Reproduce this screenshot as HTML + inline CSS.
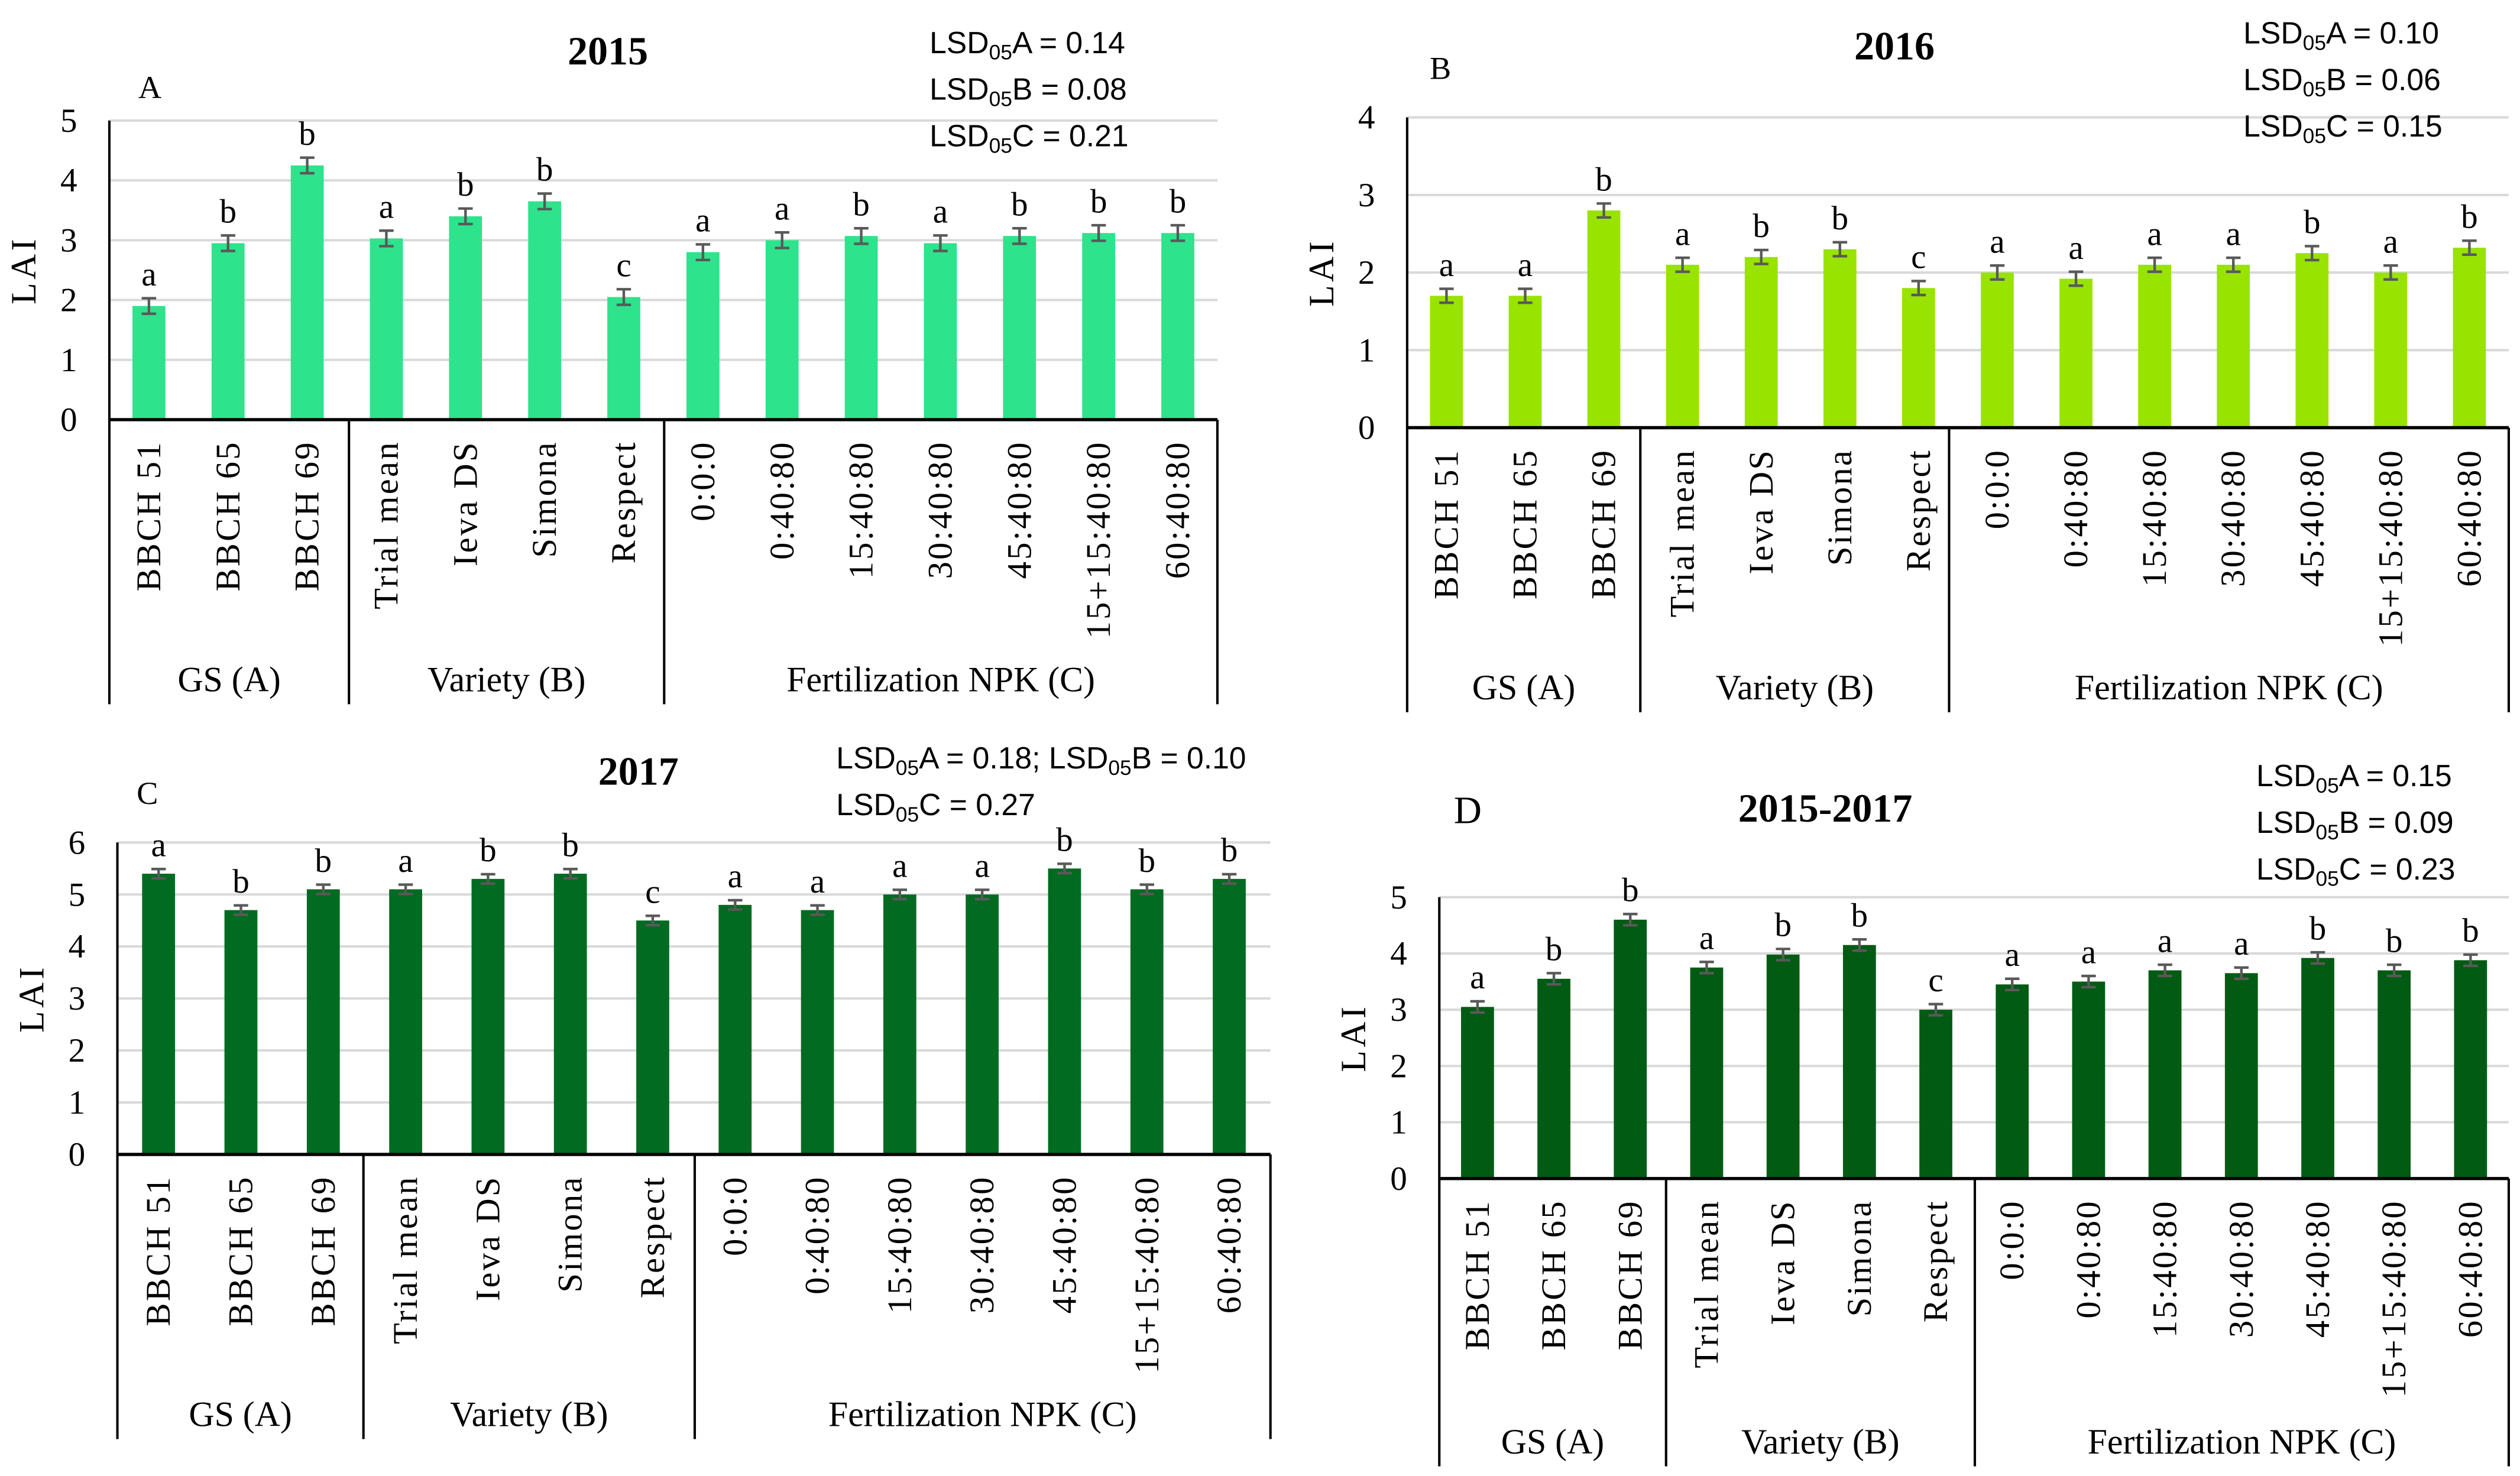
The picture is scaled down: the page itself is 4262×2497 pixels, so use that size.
<!DOCTYPE html>
<html><head><meta charset="utf-8"><style>
html,body{margin:0;padding:0;background:#fff}
svg{display:block}
text{font-family:"Liberation Serif",serif;fill:#000}
.sans{font-family:"Liberation Sans",sans-serif}
</style></head><body>
<svg id="chart" width="4262" height="2497" viewBox="0 0 1567 918" preserveAspectRatio="none"></svg>
<script>
const categories = ["BBCH 51","BBCH 65","BBCH 69","Trial mean","Ieva DS","Simona","Respect","0:0:0","0:40:80","15:40:80","30:40:80","45:40:80","15+15:40:80","60:40:80"];
const groupNames = ["GS (A)","Variety (B)","Fertilization NPK (C)"];
const groupSizes = [3,4,7];
const valuesA = [1.9,2.95,4.25,3.03,3.4,3.65,2.05,2.8,3.0,3.07,2.95,3.07,3.12,3.12];
const valuesB = [1.7,1.7,2.8,2.1,2.2,2.3,1.8,2.0,1.92,2.1,2.1,2.25,2.0,2.32];
const valuesC = [5.4,4.7,5.1,5.1,5.3,5.4,4.5,4.8,4.7,5.0,5.0,5.5,5.1,5.3];
const valuesD = [3.05,3.55,4.6,3.75,3.98,4.15,3.0,3.45,3.5,3.7,3.65,3.92,3.7,3.88];
const lettersA = ["a","b","b","a","b","b","c","a","a","b","a","b","b","b"];
const lettersB = ["a","a","b","a","b","b","c","a","a","a","a","b","a","b"];
const lettersC = ["a","b","b","a","b","b","c","a","a","a","a","b","b","b"];
const lettersD = ["a","b","b","a","b","b","c","a","a","a","a","b","b","b"];
const ticksA = [0,1,2,3,4,5];
const ticksB = [0,1,2,3,4];
const ticksC = [0,1,2,3,4,5,6];
const ticksD = [0,1,2,3,4,5];
const errA = 0.13, errB = 0.09, errC = 0.09, errD = 0.1;

const NS = "http://www.w3.org/2000/svg";
const svg = document.getElementById("chart");
function mk(tag, attrs, parent, txt){
  const e = document.createElementNS(NS, tag);
  for (const k in attrs) e.setAttribute(k, attrs[k]);
  if (txt !== undefined) e.textContent = txt;
  (parent || svg).appendChild(e);
  return e;
}

const panels = [
  {id:"a", vals:valuesA, letters:lettersA, ticks:ticksA, err:errA, color:"#2de38c",
   L:68, R:757, T:75, B:261, bot:438, div:[217,413], title:"2015", tx:378, ty:40, letter:"A", lx:86, ly:61,
   lsd:[["A","0.14",578,33],["B","0.08",578,62],["C","0.21",578,91]]},
  {id:"b", vals:valuesB, letters:lettersB, ticks:ticksB, err:errB, color:"#99e300",
   L:875, R:1560, T:73, B:266, bot:443, div:[1020,1212], title:"2016", tx:1178, ty:37, letter:"B", lx:889, ly:49,
   lsd:[["A","0.10",1395,27],["B","0.06",1395,56],["C","0.15",1395,85]]},
  {id:"c", vals:valuesC, letters:lettersC, ticks:ticksC, err:errC, color:"#016b21",
   L:73, R:790, T:524, B:718, bot:895, div:[226,432], title:"2017", tx:397, ty:488, letter:"C", lx:85, ly:500,
   lsd:[["A","0.18; ",520,478],["C","0.27",520,507]], lsdExtra:true},
  {id:"d", vals:valuesD, letters:lettersD, ticks:ticksD, err:errD, color:"#015b13",
   L:895, R:1560, T:558, B:733, bot:912, div:[1036,1228], title:"2015-2017", tx:1135, ty:511, letter:"D", lx:904, ly:512,
   lsd:[["A","0.15",1403,489],["B","0.09",1403,518],["C","0.23",1403,547]]}
];

function lsdText(g, x, y, letter, val, extra){
  const t = mk("text", {x:x, y:y, "font-size":19, "class":"sans"}, g);
  
  
  mk("tspan", {}, t, "LSD");
  mk("tspan", {"font-size":13, dy:4}, t, "05");
  mk("tspan", {dy:-4}, t, letter + " = " + val);
  if (extra){
    mk("tspan", {}, t, "LSD");
    mk("tspan", {"font-size":13, dy:4}, t, "05");
    mk("tspan", {dy:-4}, t, "B = 0.10");
  }
}

panels.forEach(p => {
  const g = mk("g", {});
  
  
  const maxT = p.ticks[p.ticks.length-1];
  const y = v => p.B - (v / maxT) * (p.B - p.T);
  const n = categories.length;
  const step = (p.R - p.L) / n;
  const xc = i => p.L + (i + 0.5) * step;
  const bw = 20.5;
  p.ticks.forEach(tv => {
    if (tv > 0){
      const gl = mk("line", {x1:p.L, x2:p.R, y1:y(tv), y2:y(tv), stroke:"#d9d9d9", "stroke-width":1.5}, g);
      
      
    }
    const tl = mk("text", {x:p.L-20, y:y(tv)+7, "font-size":21, "text-anchor":"end"}, g, String(tv));
    
    
  });
  const yt = mk("text", {x:0, y:0, "font-size":22, "letter-spacing":2, "text-anchor":"middle", transform:`translate(${p.L-46},${(p.T+p.B)/2}) rotate(-90)`}, g, "LAI");
  
  
  p.vals.forEach((v, i) => {
    const r = mk("rect", {x:xc(i)-bw/2, y:y(v), width:bw, height:p.B - y(v), fill:p.color}, g);
    
    
    const e1 = y(v + p.err), e2 = y(v - p.err);
    const eb = mk("path", {d:`M${xc(i)},${e1}V${e2}M${xc(i)-4.5},${e1}H${xc(i)+4.5}M${xc(i)-4.5},${e2}H${xc(i)+4.5}`, stroke:"#595959", "stroke-width":1.6, fill:"none"}, g);
    
    
    const lt = mk("text", {x:xc(i), y:e1-8, "font-size":21, "text-anchor":"middle"}, g, p.letters[i]);
    
    
    const cl = mk("text", {x:0, y:0, "font-size":21.5, "letter-spacing":1.2, "text-anchor":"end", transform:`translate(${xc(i)+7},${p.B+13}) rotate(-90)`}, g, categories[i]);
    
    
  });
  mk("line", {x1:p.L, x2:p.L, y1:p.T, y2:p.bot, stroke:"#000", "stroke-width":1.5}, g);
  mk("line", {x1:p.L, x2:p.R, y1:p.B, y2:p.B, stroke:"#000", "stroke-width":2}, g);
  mk("line", {x1:p.R, x2:p.R, y1:p.B, y2:p.bot, stroke:"#000", "stroke-width":1.5}, g);
  p.div.forEach(dx => mk("line", {x1:dx, x2:dx, y1:p.B, y2:p.bot, stroke:"#000", "stroke-width":1.5}, g));
  const bounds = [p.L, p.div[0], p.div[1], p.R];
  groupNames.forEach((gn, k) => {
    const gt = mk("text", {x:(bounds[k]+bounds[k+1])/2, y:p.bot-8, "font-size":22, "text-anchor":"middle"}, g, gn);
    
    
  });
  const tt = mk("text", {x:p.tx, y:p.ty, "font-size":25, "font-weight":"bold", "text-anchor":"middle"}, g, p.title);
  
  
  const pl = mk("text", {x:p.lx, y:p.ly, "font-size":p.id==="d"?24:20}, g, p.letter);
  
  
  p.lsd.forEach((l, k) => lsdText(g, l[2], l[3], l[0], l[1], p.lsdExtra && k===0));
});
</script>
</body></html>
